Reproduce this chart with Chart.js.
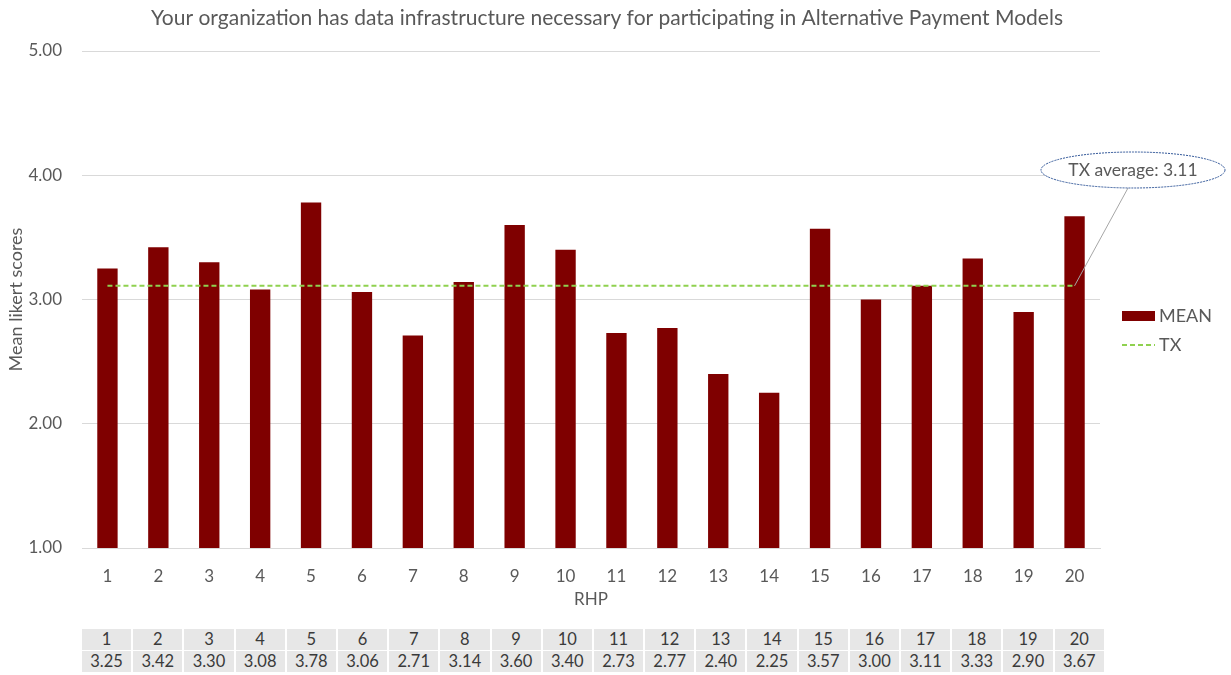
<!DOCTYPE html>
<html>
<head>
<meta charset="utf-8">
<script src="https://cdn.jsdelivr.net/npm/chart.js@4"></script>
<style>
  body { margin: 0; background: #fff; font-family: Lato, "Open Sans", sans-serif; }
  #wrap { position: relative; width: 1231px; height: 675px; }
  #chart-box { position: absolute; left: 0; top: 0; width: 1231px; height: 620px; }
  #data-table { position: absolute; left: 80px; top: 628px; width: 1026px; border-collapse: separate; border-spacing: 2px 1px; table-layout: fixed; }
  #data-table td { background: #e7e7e7; color: #3a3a3a; font-size: 16.5px; text-align: center; height: 21px; padding: 0; line-height: 21px; }
</style>
</head>
<body>
<div id="wrap">
  <div id="chart-box"><canvas id="rhp-chart"></canvas></div>
  <table id="data-table"><tbody id="table-body"></tbody></table>
</div>
<script>
const TITLE = 'Your organization has data infrastructure necessary for participating in Alternative Payment Models';
const RHP_LABELS = ['1','2','3','4','5','6','7','8','9','10','11','12','13','14','15','16','17','18','19','20'];
const MEAN_SCORES = [3.25, 3.42, 3.30, 3.08, 3.78, 3.06, 2.71, 3.14, 3.60, 3.40, 2.73, 2.77, 2.40, 2.25, 3.57, 3.00, 3.11, 3.33, 2.90, 3.67];
const TX_AVERAGE = 3.11;
const Y_TICKS = [1, 2, 3, 4, 5];

const TEXT_GREY = '#595959';
const BAR_RED = '#7f0000';
const TX_GREEN = '#8fd14f';
const FONT = 'Lato, "Open Sans", sans-serif';

// table under the chart: RHP number row + mean row
const tableBody = document.getElementById('table-body');
tableBody.innerHTML =
    '<tr>' + RHP_LABELS.map(l => `<td>${l}</td>`).join('') + '</tr>' +
    '<tr>' + MEAN_SCORES.map(v => `<td>${v.toFixed(2)}</td>`).join('') + '</tr>';

// title, legend and the "TX average" callout drawn straight on the canvas
const overlayPlugin = {
    id: 'overlay',
    afterDraw(chart) {
        const ctx = chart.ctx;
        ctx.save();
        ctx.fillStyle = TEXT_GREY;
        ctx.font = `21px ${FONT}`;
        ctx.textAlign = 'center';
        ctx.textBaseline = 'middle';
        ctx.fillText(TITLE, 607, 18);

        // legend
        ctx.fillStyle = BAR_RED;
        ctx.fillRect(1122, 311, 33, 10);
        ctx.strokeStyle = TX_GREEN;
        ctx.lineWidth = 2;
        ctx.setLineDash([5, 3]);
        ctx.beginPath();
        ctx.moveTo(1122, 345);
        ctx.lineTo(1155, 345);
        ctx.stroke();
        ctx.setLineDash([]);
        ctx.fillStyle = TEXT_GREY;
        ctx.font = `18px ${FONT}`;
        ctx.textAlign = 'left';
        ctx.fillText('MEAN', 1159, 316);
        ctx.fillText('TX', 1159, 345);

        // callout pointing at the end of the TX line
        const meta = chart.getDatasetMeta(1);
        const end = meta.data[meta.data.length - 1];
        const cx = 1133, cy = 170;
        ctx.strokeStyle = '#a6a6a6';
        ctx.lineWidth = 1;
        ctx.beginPath();
        ctx.moveTo(end.x, end.y);
        ctx.lineTo(1128, 188);
        ctx.stroke();
        ctx.beginPath();
        ctx.ellipse(cx, cy, 92, 18, 0, 0, Math.PI * 2);
        ctx.fillStyle = '#fff';
        ctx.fill();
        ctx.strokeStyle = '#2f5597';
        ctx.setLineDash([2, 1]);
        ctx.stroke();
        ctx.setLineDash([]);
        ctx.fillStyle = TEXT_GREY;
        ctx.font = `17.5px ${FONT}`;
        ctx.textAlign = 'center';
        ctx.fillText('TX average: ' + TX_AVERAGE.toFixed(2), cx, cy);
        ctx.restore();
    }
};

new Chart(document.getElementById('rhp-chart'), {
    data: {
        labels: RHP_LABELS,
        datasets: [
            {
                type: 'bar', label: 'MEAN', data: MEAN_SCORES,
                backgroundColor: BAR_RED, borderWidth: 0,
                barPercentage: 0.4, categoryPercentage: 1, order: 2
            },
            {
                type: 'line', label: 'TX', data: RHP_LABELS.map(() => TX_AVERAGE),
                borderColor: TX_GREEN, borderWidth: 2, borderDash: [5, 3],
                pointRadius: 0, fill: false, order: 1
            }
        ]
    },
    options: {
        responsive: true, maintainAspectRatio: false, animation: false,
        layout: { padding: { top: 51, right: 131, bottom: 0, left: 0 } },
        plugins: { legend: { display: false }, title: { display: false }, tooltip: { enabled: false } },
        scales: {
            x: {
                grid: { display: false, drawTicks: false },
                border: { color: '#d9d9d9' },
                ticks: { color: TEXT_GREY, font: { family: FONT, size: 17 }, padding: 18 },
                title: { display: true, text: 'RHP', color: TEXT_GREY, font: { family: FONT, size: 17 }, padding: { top: 2, bottom: 10 } },
                afterFit: s => { s.height = 72; }
            },
            y: {
                min: 1, max: 5,
                afterBuildTicks: s => { s.ticks = Y_TICKS.map(v => ({ value: v })); },
                grid: { color: '#d9d9d9', drawTicks: false },
                border: { display: false },
                ticks: { color: TEXT_GREY, font: { family: FONT, size: 17 }, padding: 20, callback: v => v.toFixed(2) },
                title: { display: true, text: 'Mean likert scores', color: TEXT_GREY, font: { family: FONT, size: 18 }, padding: { top: 5, bottom: 0 } },
                afterFit: s => { s.width = 82; }
            }
        }
    },
    plugins: [overlayPlugin]
});
</script>
</body>
</html>
